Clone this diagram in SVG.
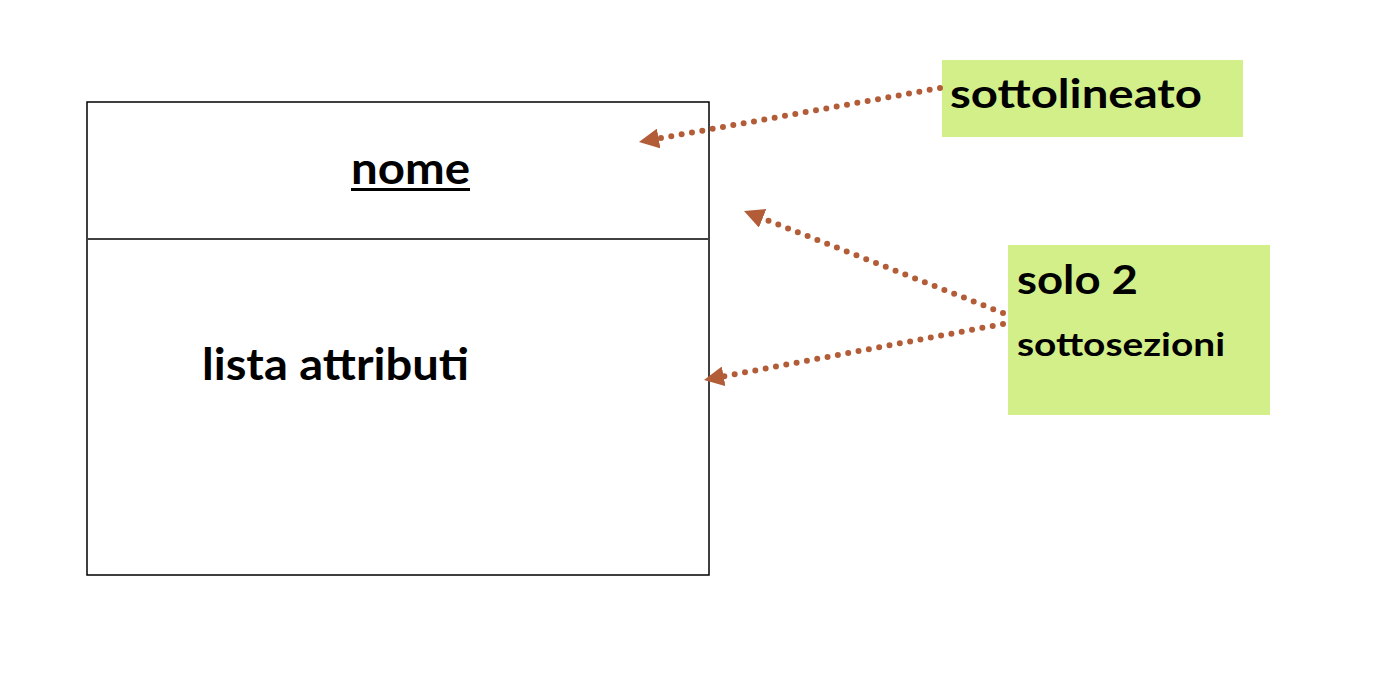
<svg xmlns="http://www.w3.org/2000/svg" width="1373" height="692" viewBox="0 0 1373 692">
<style>
text{font-family:Lato,"Liberation Sans",sans-serif;font-weight:bold;fill:#000}
.note{fill:#D3EF8A}
.conn{stroke:#B35D38;stroke-width:6;stroke-linecap:round;stroke-dasharray:0 10.5;fill:none}
</style>
<defs>
<marker id="ah" viewBox="0 0 10 10" refX="2" refY="5" markerWidth="20" markerHeight="20" markerUnits="userSpaceOnUse" orient="auto">
<path d="M0,0 L10,5 L0,10 z" fill="#B35D38"/>
</marker>
</defs>
<rect width="1373" height="692" fill="#fff"/>
<g id="class">
<rect x="87" y="102" width="622" height="473" fill="none" stroke="#000" stroke-width="1.5"/>
<line x1="87" y1="239" x2="709" y2="239" stroke="#404040" stroke-width="2"/>
<text x="351" y="184" font-size="43" textLength="119" lengthAdjust="spacingAndGlyphs">nome</text>
<rect x="351" y="188" width="119" height="3" fill="#000"/>
<text x="202" y="380" font-size="43" textLength="267" lengthAdjust="spacingAndGlyphs">lista attributi</text>
</g>
<g id="note1">
<rect class="note" x="942" y="60" width="301" height="77"/>
<text x="950" y="108" font-size="41" textLength="252" lengthAdjust="spacingAndGlyphs">sottolineato</text>
</g>
<g id="note2">
<rect class="note" x="1008" y="245" width="262" height="170"/>
<text x="1017" y="294" font-size="41" textLength="121" lengthAdjust="spacingAndGlyphs">solo 2</text>
<text x="1017" y="356" font-size="33" textLength="208" lengthAdjust="spacingAndGlyphs">sottosezioni</text>
</g>
<g id="connectors">
<line class="conn" x1="940" y1="88" x2="654.7" y2="139.2" marker-end="url(#ah)"/>
<line class="conn" x1="1003" y1="313" x2="758.9" y2="216.9" marker-end="url(#ah)"/>
<line class="conn" x1="1003" y1="324" x2="719.7" y2="377.1" marker-end="url(#ah)"/>
</g>
</svg>
